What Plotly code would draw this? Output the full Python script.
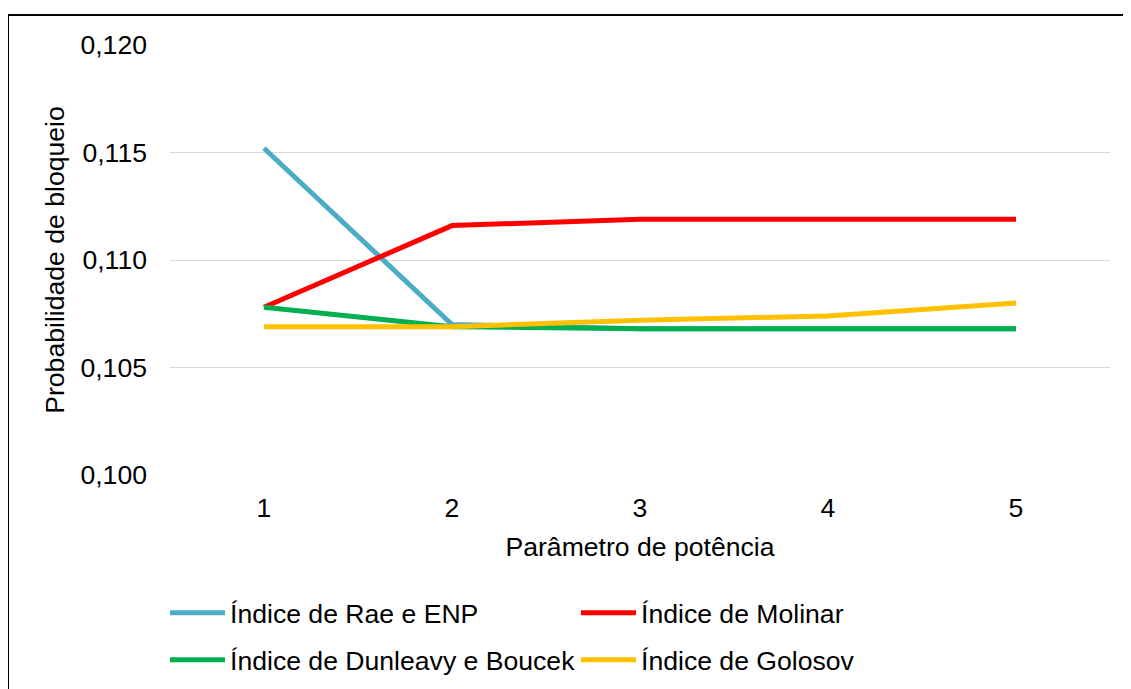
import plotly.graph_objects as go

categories = ["1", "2", "3", "4", "5"]
rae = [0.1152, 0.1070, 0.1068, 0.1068, 0.1068]
molinar = [0.1078, 0.1116, 0.1119, 0.1119, 0.1119]
dunleavy = [0.1078, 0.1069, 0.1068, 0.1068, 0.1068]
golosov = [0.1069, 0.1069, 0.1072, 0.1074, 0.1080]

names = ["Índice de Rae e ENP", "Índice de Molinar",
         "Índice de Dunleavy e Boucek", "Índice de Golosov"]
colors = ["#4BACC6", "#FF0000", "#00B050", "#FFC000"]
legends = ["legend", "legend", "legend2", "legend2"]
series = [rae, molinar, dunleavy, golosov]

FONT = "Liberation Sans, Arial, sans-serif"
FS = 26.6
fig = go.Figure()
for n, c, s, lg in zip(names, colors, series, legends):
    fig.add_trace(go.Scatter(x=categories, y=s, name=n, mode="lines",
                             line=dict(color=c, width=5), legend=lg))

# page has an 8px body margin; figure coordinates are page coordinates - 8
FW, FH = 1123, 681
L, T, W, H = 162, 37, 940, 430

def px(x):
    return (x - 8 - L) / W

def py(y):
    return (T + H - (y - 8)) / H

legend_common = dict(orientation="h", xanchor="left", yanchor="middle",
                     font=dict(family=FONT, size=FS, color="#000000"),
                     itemwidth=55, entrywidth=341, entrywidthmode="pixels",
                     bgcolor="rgba(0,0,0,0)", traceorder="normal",
                     itemclick=False, itemdoubleclick=False)

fig.update_layout(
    width=FW, height=FH,
    margin=dict(l=L, r=FW - L - W, t=T, b=FH - T - H, autoexpand=False),
    paper_bgcolor="white", plot_bgcolor="white",
    separators=",.",
    font=dict(family=FONT, size=FS, color="#000000"),
    showlegend=True,
    legend=dict(x=px(165), y=py(613), **legend_common),
    legend2=dict(x=px(165), y=py(660), **legend_common),
    xaxis=dict(type="category", range=[-0.5, 4.5], showgrid=False,
               showline=False, ticks="", zeroline=False,
               ticklabelstandoff=14,
               tickfont=dict(size=FS),
               title=dict(text="Parâmetro de potência", font=dict(size=FS),
                          standoff=15)),
    yaxis=dict(range=[0.100, 0.120], dtick=0.005, tickformat=".3f",
               showgrid=True, gridcolor="#D9D9D9", gridwidth=1,
               zeroline=False, showline=False, ticks="",
               ticklabelstandoff=22,
               tickfont=dict(size=FS),
               title=dict(text="Probabilidade de bloqueio", font=dict(size=FS),
                          standoff=8)),
    shapes=[
        dict(type="line", xref="paper", yref="paper",
             x0=px(8), x1=px(1131), y0=py(15), y1=py(15),
             line=dict(color="#000000", width=2)),
        dict(type="line", xref="paper", yref="paper",
             x0=px(8), x1=px(8), y0=py(15), y1=py(689),
             line=dict(color="#000000", width=2)),
    ],
)

fig.write_html("out.html")
